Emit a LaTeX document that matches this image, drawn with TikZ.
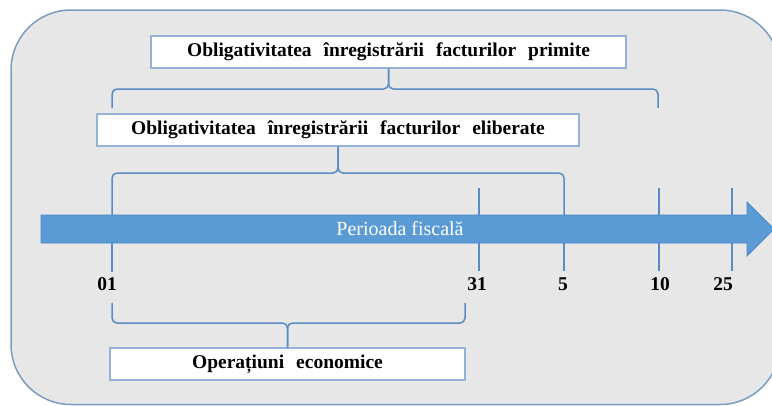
\documentclass[tikz,border=0pt]{standalone}
\usepackage{fontspec}
\setmainfont{Liberation Serif}
\newcommand{\myboxfont}{\fontsize{19.5}{22}\selectfont\bfseries\spaceskip=12pt plus 1pt\relax}
\begin{document}
\begin{tikzpicture}[x=1pt,y=-1pt,
  box/.style={draw=boxblue, line width=1.2pt, fill=white, inner sep=0pt, minimum height=32pt,
    font=\myboxfont},
  br/.style={draw=lineblue, line width=1.5pt, rounded corners=5pt},
  tick/.style={draw=lineblue, line width=1.5pt},
  lab/.style={font=\fontsize{19.5}{22}\selectfont\bfseries, inner sep=0pt}]
\definecolor{boxblue}{HTML}{95B3D7}
\definecolor{lineblue}{HTML}{5B8BC4}
\definecolor{bggray}{HTML}{E7E7E7}
\definecolor{bgborder}{HTML}{7A9CC0}
\definecolor{arrowfill}{HTML}{5B9BD5}
\definecolor{arrowdraw}{HTML}{4A86C5}
\useasboundingbox (0,0) rectangle (772,405);
\begin{scope}
  \clip (0,0) rectangle (772,405);
  \draw[fill=bggray, draw=bgborder, line width=1.5pt, rounded corners=60pt] (11,10) rectangle (780,404.5);
\end{scope}
% boxes
\node[box, minimum width=475pt] (b1) at (388.5,52) {Obligativitatea înregistrării facturilor primite};
\node[box, minimum width=482pt] (b2) at (338,130) {Obligativitatea înregistrării facturilor eliberate};
\node[box, minimum width=355pt] (b3) at (287.5,364) {Operațiuni economice};
% arrow
\draw[fill=arrowfill, draw=arrowdraw, line width=0.8pt] (41,215) -- (747,215) -- (747,202) -- (774,229) -- (747,256) -- (747,243) -- (41,243) -- cycle;
\node[text=white, font=\fontsize{20}{22}\selectfont, inner sep=0pt] (per) at (400,229) {Perioada fiscală};
% tick coordinates
\coordinate (t01a) at (112,215); \coordinate (t01b) at (112,243); \coordinate (t01c) at (112,272);
\coordinate (t31a) at (479,188); \coordinate (t31b) at (479,215); \coordinate (t31c) at (479,243); \coordinate (t31d) at (479,271);
\coordinate (t5a) at (564,215); \coordinate (t5b) at (564,243); \coordinate (t5c) at (564,271);
\coordinate (t10a) at (659,188); \coordinate (t10b) at (659,215); \coordinate (t10c) at (659,243); \coordinate (t10d) at (659,271);
\coordinate (t25a) at (732,188); \coordinate (t25b) at (732,215); \coordinate (t25c) at (732,243); \coordinate (t25d) at (732,271);
% braces
\coordinate (e1l) at (112,108); \coordinate (e1r) at (658,108);
\draw[br] (e1l) |- (b1.south |- 0,89) -- (b1.south);
\draw[br] (b1.south) -- (b1.south |- 0,89) -| (e1r);
\draw[br] (t01a) |- (b2.south |- 0,173) -- (b2.south);
\draw[br] (b2.south) -- (b2.south |- 0,173) -| (t5a);
\coordinate (e3l) at (112,303); \coordinate (e3r) at (465,303);
\draw[br] (e3l) |- (b3.north |- 0,323) -- (b3.north);
\draw[br] (b3.north) -- (b3.north |- 0,323) -| (e3r);
% ticks
\draw[tick] (t31a) -- (t31b); \draw[tick] (t10a) -- (t10b); \draw[tick] (t25a) -- (t25b);
\draw[tick] (t01b) -- (t01c); \draw[tick] (t31c) -- (t31d); \draw[tick] (t5b) -- (t5c);
\draw[tick] (t10c) -- (t10d); \draw[tick] (t25c) -- (t25d);
% labels
\node[lab] (l01) at (107,284) {01};
\node[lab] (l31) at (477,284) {31};
\node[lab] (l5) at (563,284) {5};
\node[lab] (l10) at (660,284) {10};
\node[lab] (l25) at (723,284) {25};
\end{tikzpicture}
\end{document}
